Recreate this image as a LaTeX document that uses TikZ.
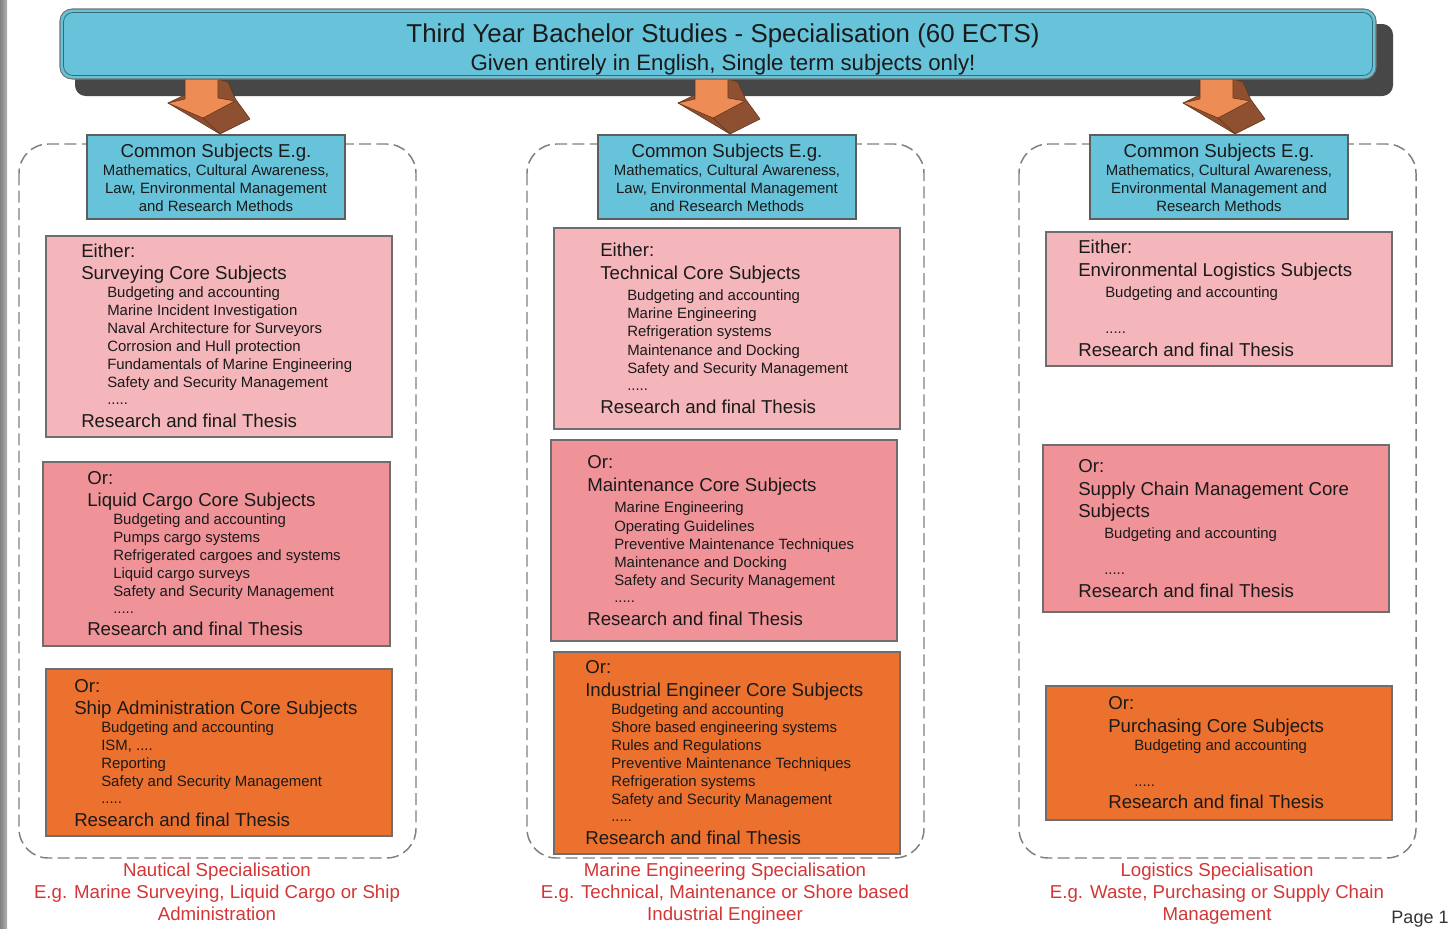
\documentclass[tikz,border=0pt]{standalone}
\usepackage{fontspec}
\setmainfont{Liberation Sans}
\usetikzlibrary{fit}
\definecolor{bannerblue}{HTML}{67C3D9}
\definecolor{shadowgray}{HTML}{474747}
\definecolor{pinkA}{HTML}{F4B6BA}
\definecolor{pinkB}{HTML}{EF9399}
\definecolor{orangeC}{HTML}{EC702E}
\definecolor{arrowfront}{HTML}{EE8C55}
\definecolor{arrowside}{HTML}{8E5030}
\definecolor{arrowedge}{HTML}{5E3219}
\definecolor{captionred}{HTML}{D43535}
\definecolor{boxedge}{HTML}{6E6E6E}
\definecolor{dashgray}{HTML}{808080}
\definecolor{txt}{HTML}{1A1A1A}
\newcommand\blockarrow[1]{%
  \begin{scope}[shift={(#1,0)}]
    \fill[arrowside,draw=arrowedge,line width=0.4pt,line join=round]
      (-33.5,103) -- (18.5,134) -- (48.5,119) -- (34,99) -- (26.5,82) -- (16.5,79) -- cycle;
    \fill[arrowfront,draw=arrowedge,line width=0.4pt,line join=round]
      (-16.5,79) -- (16.5,79) -- (16.5,98) -- (33.5,101) -- (1.5,118) -- (-33.5,103) -- (-16.5,99) -- cycle;
    \draw[arrowedge,line width=0.4pt] (1.5,118) -- (18.5,134);
  \end{scope}}
\begin{document}
\begin{tikzpicture}[x=0.75pt,y=-0.75pt,
  big/.style={anchor=west,inner sep=0pt,text=txt,font=\fontsize{14}{16}\selectfont,text height=10pt,text depth=2.5pt,yshift=-1.5pt},
  small/.style={anchor=west,inner sep=0pt,text=txt,font=\fontsize{11.2}{13}\selectfont,text height=8pt,text depth=2pt,yshift=-1.2pt},
  bigc/.style={big,anchor=center},
  smallc/.style={small,anchor=center},
  captext/.style={anchor=center,inner sep=0pt,text=captionred,font=\fontsize{14}{16}\selectfont,text height=10pt,text depth=2.5pt,yshift=-1.5pt},
  subjbox/.style={inner sep=0pt,draw=boxedge,line width=1.1pt},
  commonbox/.style={inner sep=0pt,draw=boxedge!85!black,line width=1pt,fill=bannerblue},
  container/.style={draw=dashgray,line width=1.1pt,dash pattern=on 9pt off 4pt,rounded corners=22pt}]
\useasboundingbox (0,0) rectangle (1449,928);
\fill[white] (0,0) rectangle (1449,928);
\shade[left color=black!50,right color=black!30] (0,0) rectangle (7,928);

% dashed containers
\draw[container] (19,144) rectangle (416,858);
\draw[container] (527,144) rectangle (924,858);
\draw[container] (1019,144) rectangle (1416,858);

% banner shadow, arrows, banner
\fill[shadowgray,rounded corners=8pt] (75,24) rectangle (1393,96);
\blockarrow{201.5}
\blockarrow{711.5}
\blockarrow{1216.5}
\node[fit={(60,9) (1376,79)},inner sep=0pt,rounded corners=9pt,fill=bannerblue,draw=black!55,line width=0.8pt] (banner) {};
\draw[draw=black!45!bannerblue,line width=0.6pt,rounded corners=7pt] (63.5,12.5) rectangle (1372.5,75.5);
\node[anchor=center,inner sep=0pt,text=txt,font=\fontsize{19.4}{22}\selectfont,yshift=-2.2pt] (title) at (723,33) {Third Year Bachelor Studies - Specialisation (60 ECTS)};
\node[anchor=center,inner sep=0pt,text=txt,font=\fontsize{16.7}{19}\selectfont,yshift=-2.2pt] (subtitle) at (723,62) {Given entirely in English, Single term subjects only!};

% common subject boxes
\node[commonbox,fit={(87,135) (345,219)}] (c1) {};
\node[bigc] (c1a) at (216,150) {Common Subjects E.g.};
\node[smallc] (c1b) at (216,170) {Mathematics, Cultural Awareness,};
\node[smallc] (c1c) at (216,188) {Law, Environmental Management};
\node[smallc] (c1d) at (216,206) {and Research Methods};

\node[commonbox,fit={(598,135) (856,219)}] (c2) {};
\node[bigc] (c2a) at (727,150) {Common Subjects E.g.};
\node[smallc] (c2b) at (727,170) {Mathematics, Cultural Awareness,};
\node[smallc] (c2c) at (727,188) {Law, Environmental Management};
\node[smallc] (c2d) at (727,206) {and Research Methods};

\node[commonbox,fit={(1090,135) (1348,219)}] (c3) {};
\node[bigc] (c3a) at (1219,150) {Common Subjects E.g.};
\node[smallc] (c3b) at (1219,170) {Mathematics, Cultural Awareness,};
\node[smallc] (c3c) at (1219,188) {Environmental Management and};
\node[smallc] (c3d) at (1219,206) {Research Methods};

% left column
\node[subjbox,fill=pinkA,fit={(46,236) (392,437)}] (b1) {};
\node[big] (b1a) at (81,250) {Either:};
\node[big] (b1b) at (81,272) {Surveying Core Subjects};
\node[small] (b1c) at (107,292) {Budgeting and accounting};
\node[small] (b1d) at (107,310) {Marine Incident Investigation};
\node[small] (b1e) at (107,328) {Naval Architecture for Surveyors};
\node[small] (b1f) at (107,346) {Corrosion and Hull protection};
\node[small] (b1g) at (107,364) {Fundamentals of Marine Engineering};
\node[small] (b1h) at (107,382) {Safety and Security Management};
\node[small] (b1i) at (107,399) {.....};
\node[big] (b1j) at (81,420) {Research and final Thesis};

\node[subjbox,fill=pinkB,fit={(43,462) (390,646)}] (b2) {};
\node[big] (b2a) at (87,477) {Or:};
\node[big] (b2b) at (87,499) {Liquid Cargo Core Subjects};
\node[small] (b2c) at (113,519) {Budgeting and accounting};
\node[small] (b2d) at (113,537) {Pumps cargo systems};
\node[small] (b2e) at (113,555) {Refrigerated cargoes and systems};
\node[small] (b2f) at (113,573) {Liquid cargo surveys};
\node[small] (b2g) at (113,591) {Safety and Security Management};
\node[small] (b2h) at (113,608) {.....};
\node[big] (b2i) at (87,628) {Research and final Thesis};

\node[subjbox,fill=orangeC,fit={(46,669) (392,836)}] (b3) {};
\node[big] (b3a) at (74,685) {Or:};
\node[big] (b3b) at (74,707) {Ship Administration Core Subjects};
\node[small] (b3c) at (101,727) {Budgeting and accounting};
\node[small] (b3d) at (101,745) {ISM, ....};
\node[small] (b3e) at (101,763) {Reporting};
\node[small] (b3f) at (101,781) {Safety and Security Management};
\node[small] (b3g) at (101,798) {.....};
\node[big] (b3h) at (74,819) {Research and final Thesis};

% middle column
\node[subjbox,fill=pinkA,fit={(554,228) (900,429)}] (b4) {};
\node[big] (b4a) at (600,249) {Either:};
\node[big] (b4b) at (600,272) {Technical Core Subjects};
\node[small] (b4c) at (627,295) {Budgeting and accounting};
\node[small] (b4d) at (627,313) {Marine Engineering};
\node[small] (b4e) at (627,331) {Refrigeration systems};
\node[small] (b4f) at (627,350) {Maintenance and Docking};
\node[small] (b4g) at (627,368) {Safety and Security Management};
\node[small] (b4h) at (627,385) {.....};
\node[big] (b4i) at (600,406) {Research and final Thesis};

\node[subjbox,fill=pinkB,fit={(551,440) (897,641)}] (b5) {};
\node[big] (b5a) at (587,461) {Or:};
\node[big] (b5b) at (587,484) {Maintenance Core Subjects};
\node[small] (b5c) at (614,507) {Marine Engineering};
\node[small] (b5d) at (614,526) {Operating Guidelines};
\node[small] (b5e) at (614,544) {Preventive Maintenance Techniques};
\node[small] (b5f) at (614,562) {Maintenance and Docking};
\node[small] (b5g) at (614,580) {Safety and Security Management};
\node[small] (b5h) at (614,597) {.....};
\node[big] (b5i) at (587,618) {Research and final Thesis};

\node[subjbox,fill=orangeC,fit={(554,652) (900,854)}] (b6) {};
\node[big] (b6a) at (585,666) {Or:};
\node[big] (b6b) at (585,689) {Industrial Engineer Core Subjects};
\node[small] (b6c) at (611,709) {Budgeting and accounting};
\node[small] (b6d) at (611,727) {Shore based engineering systems};
\node[small] (b6e) at (611,745) {Rules and Regulations};
\node[small] (b6f) at (611,763) {Preventive Maintenance Techniques};
\node[small] (b6g) at (611,781) {Refrigeration systems};
\node[small] (b6h) at (611,799) {Safety and Security Management};
\node[small] (b6i) at (611,816) {.....};
\node[big] (b6j) at (585,837) {Research and final Thesis};

% right column
\node[subjbox,fill=pinkA,fit={(1046,232) (1392,366)}] (b7) {};
\node[big] (b7a) at (1078,246) {Either:};
\node[big] (b7b) at (1078,269) {Environmental Logistics Subjects};
\node[small] (b7c) at (1105,292) {Budgeting and accounting};
\node[small] (b7d) at (1105,328) {.....};
\node[big] (b7e) at (1078,349) {Research and final Thesis};

\node[subjbox,fill=pinkB,fit={(1043,445) (1389,612)}] (b8) {};
\node[big] (b8a) at (1078,465) {Or:};
\node[big] (b8b) at (1078,488) {Supply Chain Management Core};
\node[big] (b8c) at (1078,510) {Subjects};
\node[small] (b8d) at (1104,533) {Budgeting and accounting};
\node[small] (b8e) at (1104,569) {.....};
\node[big] (b8f) at (1078,590) {Research and final Thesis};

\node[subjbox,fill=orangeC,fit={(1046,686) (1392,820)}] (b9) {};
\node[big] (b9a) at (1108,702) {Or:};
\node[big] (b9b) at (1108,725) {Purchasing Core Subjects};
\node[small] (b9c) at (1134,745) {Budgeting and accounting};
\node[small] (b9d) at (1134,781) {.....};
\node[big] (b9e) at (1108,801) {Research and final Thesis};

% captions
\node[captext] (n1) at (217,869) {Nautical Specialisation};
\node[captext] (n2) at (217,891) {E.g. Marine Surveying, Liquid Cargo or Ship};
\node[captext] (n3) at (217,913) {Administration};
\node[captext] (m1) at (725,869) {Marine Engineering Specialisation};
\node[captext] (m2) at (725,891) {E.g. Technical, Maintenance or Shore based};
\node[captext] (m3) at (725,913) {Industrial Engineer};
\node[captext] (g1) at (1217,869) {Logistics Specialisation};
\node[captext] (g2) at (1217,891) {E.g. Waste, Purchasing or Supply Chain};
\node[captext] (g3) at (1217,913) {Management};

\node[anchor=center,inner sep=0pt,text=black!80,font=\fontsize{13.5}{16}\selectfont,text height=10pt,text depth=2.5pt,yshift=-1.5pt] (page) at (1420,916) {Page 1};
\end{tikzpicture}
\end{document}
